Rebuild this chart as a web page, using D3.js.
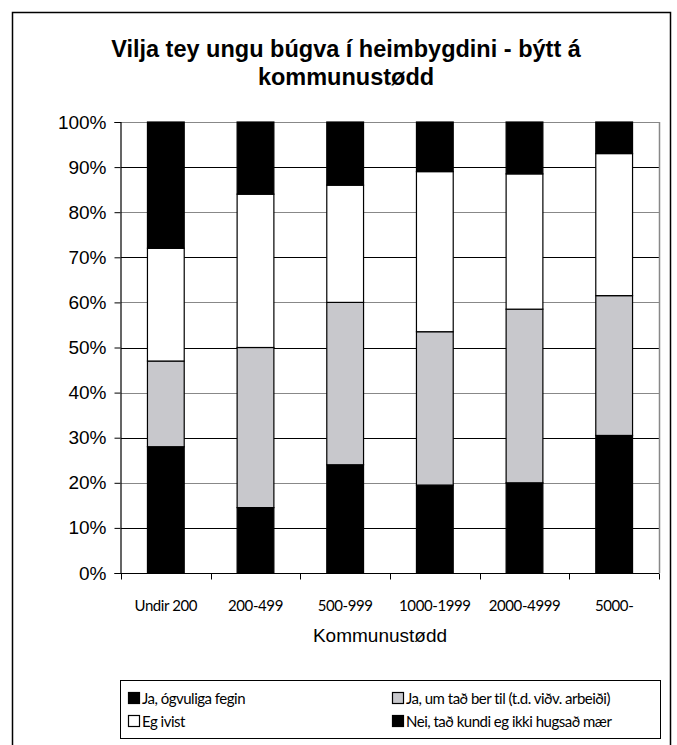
<!DOCTYPE html>
<html>
<head>
<meta charset="utf-8">
<script src="https://cdn.jsdelivr.net/npm/d3@7"></script>
<style>
  body { margin: 0; background: #fff; }
  svg { display: block; }
</style>
</head>
<body>
<div id="chart"></div>
<script>
let categories = ['Undir 200', '200-499', '500-999', '1000-1999', '2000-4999', '5000-']
let seriesNames = [
  'Ja, ógvuliga fegin',
  'Ja, um tað ber til (t.d. viðv. arbeiði)',
  'Eg ivist',
  'Nei, tað kundi eg ikki hugsað mær'
]
let fegin = [28, 14.5, 24, 19.5, 20, 30.5]
let berTil = [19, 35.5, 36, 34, 38.5, 31]
let ivist = [25, 34, 26, 35.5, 30, 31.5]
let nei = [28, 16, 14, 11, 11.5, 7]
let yTicks = [0, 10, 20, 30, 40, 50, 60, 70, 80, 90, 100]

let colors = ['#000', '#c8c8cc', '#fff', '#000']

let width = 677
let height = 745

let svg = d3.select('#chart')
  .append('svg')
  .attr('width', width)
  .attr('height', height)

// outer frame
svg.append('rect')
  .attr('x', 12.5)
  .attr('y', 12.5)
  .attr('width', 658)
  .attr('height', 760)
  .attr('fill', 'none')
  .attr('stroke', '#000')
  .attr('stroke-width', 1.5)

let titleFont = 'Liberation Sans, Arial, sans-serif'

svg.append('text')
  .attr('x', 346)
  .attr('y', 57)
  .attr('text-anchor', 'middle')
  .attr('font-family', titleFont)
  .attr('font-weight', 'bold')
  .attr('font-size', 23.5)
  .text('Vilja tey ungu búgva í heimbygdini - býtt á')

svg.append('text')
  .attr('x', 346)
  .attr('y', 85)
  .attr('text-anchor', 'middle')
  .attr('font-family', titleFont)
  .attr('font-weight', 'bold')
  .attr('font-size', 23.5)
  .text('kommunustødd')

let x0 = 121
let x1 = 659
let y0 = 573
let y1 = 122

let x = d3.scaleBand()
  .domain(categories)
  .range([x0, x1])
  .paddingInner(0.59)
  .paddingOuter(0.295)

let y = d3.scaleLinear()
  .domain([0, 100])
  .range([y0, y1])

let rows = categories.map((c, i) => ({
  cat: c,
  s0: fegin[i],
  s1: berTil[i],
  s2: ivist[i],
  s3: nei[i]
}))

let stacked = d3.stack().keys(['s0', 's1', 's2', 's3'])(rows)

// gridlines
svg.append('g')
  .selectAll('line')
  .data(yTicks.filter(d => d > 0))
  .enter()
  .append('line')
  .attr('x1', x0)
  .attr('x2', x1)
  .attr('y1', d => Math.round(y(d)) + 0.5)
  .attr('y2', d => Math.round(y(d)) + 0.5)
  .attr('stroke', d => (d / 10) % 2 === 1 ? '#000' : '#888')
  .attr('stroke-width', 1.2)

// right plot border
svg.append('line')
  .attr('x1', x1 + 0.5)
  .attr('x2', x1 + 0.5)
  .attr('y1', y1)
  .attr('y2', y0)
  .attr('stroke', '#888')
  .attr('stroke-width', 1.5)

// bars
svg.append('g')
  .selectAll('g')
  .data(stacked)
  .enter()
  .append('g')
  .attr('fill', (d, i) => colors[i])
  .selectAll('rect')
  .data(d => d)
  .enter()
  .append('rect')
  .attr('x', d => x(d.data.cat))
  .attr('width', x.bandwidth())
  .attr('y', d => y(d[1]))
  .attr('height', d => y(d[0]) - y(d[1]))
  .attr('stroke', '#000')
  .attr('stroke-width', 1.2)

// y axis
let yAxis = svg.append('g')
  .attr('transform', `translate(${x0 - 0.5},0)`)
  .call(d3.axisLeft(y).tickValues(yTicks).tickFormat(d => d + '%').tickSize(6))

yAxis.select('.domain').attr('stroke', '#000').attr('stroke-width', 1.2)
yAxis.selectAll('.tick line').attr('stroke', '#000')
yAxis.selectAll('.tick text')
  .attr('font-family', titleFont)
  .attr('font-size', 19)
  .attr('fill', '#000')
  .attr('x', -14)

// x axis with ticks on band boundaries
let xAxis = svg.append('g')
  .attr('transform', `translate(0,${y0 + 0.5})`)

xAxis.append('line')
  .attr('x1', x0 - 6)
  .attr('x2', x1)
  .attr('stroke', '#000')
  .attr('stroke-width', 1.2)

let bounds = categories.map(c => x(c) - x.step() * 0.295).concat([x1])

xAxis.selectAll('.xtick')
  .data(bounds)
  .enter()
  .append('line')
  .attr('class', 'xtick')
  .attr('x1', d => Math.round(d) + 0.5)
  .attr('x2', d => Math.round(d) + 0.5)
  .attr('y1', 0)
  .attr('y2', 6)
  .attr('stroke', '#000')

let smallFont = 'Lato, sans-serif'

xAxis.selectAll('.xlabel')
  .data(categories)
  .enter()
  .append('text')
  .attr('class', 'xlabel')
  .attr('x', d => x(d) + x.bandwidth() / 2)
  .attr('y', 37)
  .attr('text-anchor', 'middle')
  .attr('font-family', smallFont)
  .attr('font-size', 15)
  .attr('letter-spacing', -0.4)
  .text(d => d)

svg.append('text')
  .attr('x', 380)
  .attr('y', 642)
  .attr('text-anchor', 'middle')
  .attr('font-family', titleFont)
  .attr('font-size', 19)
  .text('Kommunustødd')

// legend
let legend = svg.append('g')

legend.append('rect')
  .attr('x', 120.5)
  .attr('y', 680.5)
  .attr('width', 540)
  .attr('height', 58)
  .attr('fill', '#fff')
  .attr('stroke', '#000')
  .attr('stroke-width', 1)

let legendPos = [
  [128, 699],
  [392, 699],
  [128, 722],
  [392, 722]
]

let items = legend.selectAll('.item')
  .data(seriesNames)
  .enter()
  .append('g')
  .attr('class', 'item')
  .attr('transform', (d, i) => `translate(${legendPos[i][0]},${legendPos[i][1]})`)

items.append('rect')
  .attr('x', 0.5)
  .attr('y', -6.5)
  .attr('width', 11)
  .attr('height', 11)
  .attr('fill', (d, i) => colors[i])
  .attr('stroke', '#000')
  .attr('stroke-width', 1.2)

items.append('text')
  .attr('x', 14)
  .attr('y', 5)
  .attr('font-family', smallFont)
  .attr('font-size', 15)
  .attr('letter-spacing', -0.5)
  .text(d => d)
</script>
</body>
</html>
